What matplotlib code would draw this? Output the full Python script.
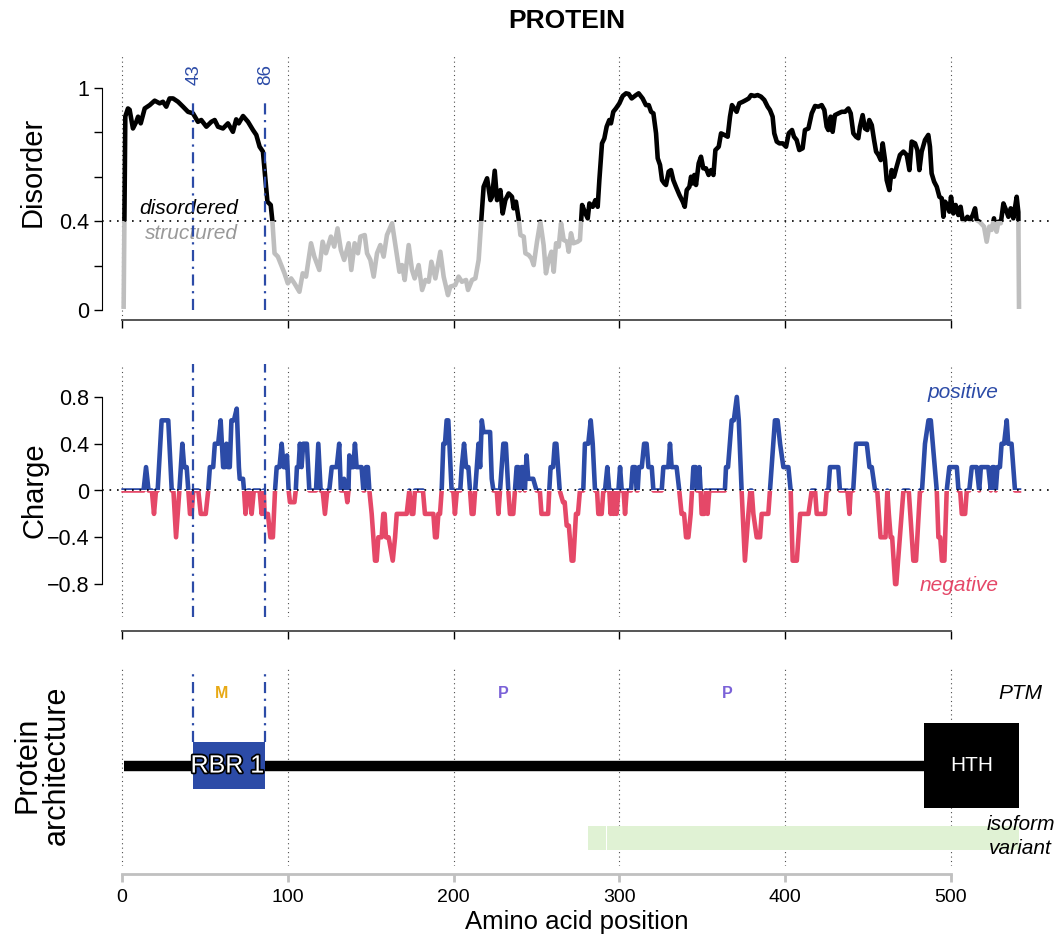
import numpy as np
import matplotlib.pyplot as plt
from matplotlib.patches import Rectangle
import matplotlib.patheffects as pe

plt.rcParams['font.family'] = ['Liberation Sans', 'DejaVu Sans']

# disorder score along the sequence (position, score)
dis_pos = [1, 2, 3.6, 4.6, 6.6, 8.6, 9.7, 11.3, 13.7, 16.7, 19.7, 22.7, 24.7, 26.7, 28.7, 30.8, 33.8, 36.8,
           39.8, 42.8, 45.8, 47.8, 50.9, 53.9, 55.9, 57.9, 60.9, 63.9, 66.9, 68.9, 70.4, 73, 76, 79, 81, 83,
           85, 86.5, 87.7, 89.7, 90.7, 92, 94, 96, 98, 100, 102, 104, 107, 109, 111, 114, 116, 119, 121, 123,
           126, 128, 130, 132, 134, 136.7, 138.3, 140.3, 142.3, 143.8, 146.4, 147.8, 149.8, 151.8, 153.8,
           155.8, 157.8, 159.8, 162.9, 164.9, 167.3, 168.9, 170.5, 172.9, 174.9, 176.5, 178.9, 181, 183, 185,
           186.6, 189, 192, 194, 196.6, 198, 201, 203, 205, 207.5, 208.7, 211.1, 213.1, 215.1, 216.7, 218.1,
           220.2, 222.2, 223.2, 224.8, 226.2, 228.2, 229.6, 231.2, 233.2, 235.2, 236.2, 237.6, 239.3, 240.3,
           242.3, 243.3, 245.3, 246.9, 248.3, 250.3, 252.3, 254.3, 255.7, 257.3, 259, 260.4, 261.8, 263.4,
           264.8, 266.4, 268.4, 269.4, 270.8, 272.2, 274.8, 276.2, 277.5, 279.5, 280.9, 281.9, 283.9, 285.5,
           286.9, 287.9, 289.5, 290.9, 292.3, 293.9, 294.9, 296.3, 297.9, 300, 302, 304, 305.6, 307.4, 310,
           311.6, 314, 316, 317.7, 319.1, 320.5, 322.1, 323.1, 324.5, 325.7, 327.1, 328.1, 329.7, 331.1,
           332.5, 334.1, 336.2, 338.2, 339.4, 340.6, 342.2, 343.2, 344.2, 345.2, 346.2, 347.8, 349.2, 350.6,
           352.2, 353.8, 355.3, 356.7, 357.9, 359.9, 361.3, 363.3, 365.3, 366.7, 367.9, 369.3, 370.7, 372.3,
           374.4, 376.4, 378, 379.4, 381.4, 383.4, 385.4, 387.4, 389.4, 390.8, 392.4, 393.4, 394.9, 396.5,
           398.5, 400.5, 402.1, 404.1, 405.3, 406.9, 408.5, 410.5, 411.9, 414, 416, 418, 420, 422, 423.6,
           425, 426, 427.4, 428.6, 430, 432.1, 434.1, 436.1, 438.1, 439.5, 441.1, 442.7, 444.1, 445.1, 446.7,
           448.1, 449.5, 450.7, 452.2, 453.6, 454.8, 456.2, 457.6, 458.8, 460.2, 461.2, 462.8, 464.2, 465.6,
           467.2, 469.2, 471.3, 473.3, 474.9, 476.3, 478.3, 479.7, 480.9, 482.3, 484.3, 486.3, 487.3, 488.3,
           489.8, 491.4, 493, 494.4, 495.4, 496.4, 497.8, 499, 500, 501.4, 502.8, 504.4, 505.8, 507, 508.4,
           509.9, 511.5, 513.1, 514.5, 515.5, 517.1, 518.5, 519.9, 521.5, 523.1, 524.5, 525.9, 527.5, 528.6,
           530, 531.6, 533.2, 534.6, 536, 537.6, 539.6, 540.6, 541]
dis_val = [0.015, 0.87, 0.906, 0.9, 0.816, 0.846, 0.869, 0.839, 0.906, 0.921, 0.941, 0.929, 0.936, 0.914,
           0.951, 0.951, 0.936, 0.914, 0.891, 0.884, 0.846, 0.854, 0.824, 0.846, 0.854, 0.824, 0.816, 0.839,
           0.801, 0.857, 0.839, 0.872, 0.846, 0.809, 0.787, 0.734, 0.712, 0.584, 0.487, 0.472, 0.4, 0.255,
           0.24, 0.202, 0.165, 0.12, 0.142, 0.12, 0.082, 0.165, 0.15, 0.3, 0.24, 0.18, 0.307, 0.255, 0.33,
           0.285, 0.367, 0.27, 0.225, 0.3, 0.18, 0.3, 0.255, 0.33, 0.337, 0.255, 0.225, 0.15, 0.255, 0.292,
           0.24, 0.337, 0.39, 0.292, 0.172, 0.202, 0.135, 0.292, 0.18, 0.142, 0.202, 0.09, 0.135, 0.127,
           0.217, 0.142, 0.262, 0.15, 0.067, 0.105, 0.112, 0.15, 0.127, 0.135, 0.09, 0.135, 0.142, 0.225,
           0.405, 0.554, 0.592, 0.494, 0.509, 0.626, 0.494, 0.539, 0.434, 0.494, 0.524, 0.509, 0.457, 0.487,
           0.405, 0.337, 0.33, 0.255, 0.247, 0.232, 0.202, 0.307, 0.397, 0.292, 0.165, 0.225, 0.262, 0.172,
           0.3, 0.285, 0.39, 0.315, 0.307, 0.262, 0.345, 0.3, 0.307, 0.315, 0.472, 0.434, 0.412, 0.479, 0.464,
           0.494, 0.464, 0.584, 0.749, 0.771, 0.824, 0.854, 0.839, 0.891, 0.906, 0.929, 0.962, 0.974, 0.971,
           0.951, 0.966, 0.974, 0.951, 0.921, 0.921, 0.891, 0.884, 0.794, 0.682, 0.652, 0.584, 0.569, 0.562,
           0.622, 0.629, 0.584, 0.554, 0.517, 0.487, 0.464, 0.539, 0.554, 0.599, 0.569, 0.607, 0.562, 0.659,
           0.689, 0.637, 0.637, 0.607, 0.629, 0.607, 0.719, 0.734, 0.794, 0.787, 0.779, 0.869, 0.921, 0.906,
           0.891, 0.929, 0.936, 0.944, 0.951, 0.966, 0.962, 0.966, 0.959, 0.944, 0.914, 0.899, 0.869, 0.794,
           0.757, 0.749, 0.749, 0.734, 0.794, 0.809, 0.779, 0.764, 0.719, 0.727, 0.809, 0.816, 0.884, 0.917,
           0.914, 0.921, 0.899, 0.824, 0.809, 0.869, 0.801, 0.876, 0.884, 0.891, 0.891, 0.906, 0.884, 0.794,
           0.779, 0.772, 0.824, 0.876, 0.816, 0.809, 0.854, 0.831, 0.764, 0.712, 0.697, 0.674, 0.749, 0.674,
           0.584, 0.539, 0.629, 0.599, 0.644, 0.697, 0.712, 0.697, 0.629, 0.757, 0.749, 0.719, 0.629, 0.712,
           0.764, 0.787, 0.734, 0.614, 0.577, 0.554, 0.509, 0.502, 0.419, 0.487, 0.472, 0.442, 0.509, 0.434,
           0.472, 0.427, 0.464, 0.404, 0.404, 0.419, 0.404, 0.427, 0.457, 0.404, 0.397, 0.386, 0.375, 0.307,
           0.375, 0.36, 0.412, 0.352, 0.397, 0.39, 0.479, 0.449, 0.419, 0.457, 0.412, 0.509, 0.44, 0.015]

# net charge along the sequence (position, charge)
charge_pos = [1, 13, 14.5, 16, 18, 19.3, 20.5, 21.5, 23.9, 27.9, 30, 31, 32.6, 34.6, 36.4, 37.5, 39, 40, 41, 42,
              43, 46, 47.5, 50.5, 52, 53, 55, 56, 58, 59.5, 61, 62, 63, 64, 65, 66, 67.5, 69.2, 70.5, 71, 73,
              73.6, 74.5, 76, 77, 78.2, 79.5, 83, 84.2, 85.5, 86, 88, 89.5, 91, 92.3, 93.3, 95, 96.3, 97.5,
              98.5, 99.5, 100.5, 101.3, 104, 104.8, 105.5, 106.5, 107.3, 108.3, 109.3, 111.5, 113, 117, 118.4,
              119.8, 121, 122.4, 123.8, 125, 126.5, 129.5, 131, 132, 133.2, 133.9, 135, 135.9, 136.6, 137.1,
              138, 139.5, 140.5, 141.5, 144.5, 145.6, 146.2, 147.2, 148.3, 149.2, 150.6, 152.6, 153.6, 154.6,
              156.6, 157.6, 158.4, 159.2, 160.8, 163.3, 164.7, 165.7, 171.7, 173.3, 174.7, 175.7, 176.7, 178.7,
              181.5, 182.7, 187.8, 188.8, 189.8, 190.8, 191.8, 192.8, 193.8, 194.8, 195.8, 196.8, 198.8, 199.8,
              200.8, 202, 204, 204.9, 206.3, 207.5, 208.9, 209.9, 210.9, 212, 213, 214, 215, 216, 217, 218, 222,
              223, 224, 226, 227, 228, 229, 230, 231.5, 233, 234, 236, 237, 238, 239, 240, 241, 242, 243, 244,
              245, 248, 250, 252, 253, 257, 257.7, 258.5, 260, 261, 262, 264, 266, 267, 268.2, 269.5, 271.2,
              272.2, 273.8, 275, 276.2, 278.2, 279.2, 281.2, 282.7, 283.9, 285.3, 286.5, 287.3, 289.3, 290.3,
              291.3, 292.7, 293.9, 294.7, 295.5, 296.5, 297.3, 298.3, 299.4, 300.4, 301.4, 302.5, 303.4, 304.4,
              307, 308, 309.5, 310.4, 311, 311.8, 313.5, 314.9, 316.4, 317.5, 319.5, 320.5, 325.5, 326.5, 329.5,
              330.5, 331.5, 334.5, 336.1, 337.5, 339, 340.2, 341.6, 343, 343.8, 344.6, 346, 346.8, 347.5, 348.2,
              349, 349.6, 351.2, 352.1, 352.6, 353.2, 354.2, 363.6, 364.3, 365.5, 367.7, 369, 370.8, 372, 373.7,
              375.7, 377.8, 379, 379.8, 380.8, 382.8, 384.8, 385.8, 389.8, 390.8, 392.8, 393.8, 395.4, 396.9,
              398.9, 401.9, 403.3, 404.5, 407, 409, 414, 416, 418, 419, 424, 425, 426, 427, 432, 433, 437.5,
              438.7, 439.5, 441, 442.7, 449.2, 450.8, 452.2, 454.2, 455.5, 456.5, 457.5, 460.5, 461.6, 462.5,
              463.6, 464.5, 466.3, 467, 471.3, 474.5, 477.3, 478.9, 481.3, 482.5, 484.3, 486.4, 487.8, 489,
              491.4, 492.4, 493.5, 494.5, 496, 497.4, 499, 503.5, 504.5, 505.5, 506.5, 508.5, 509.5, 511, 512.5,
              515.5, 517, 518, 522.5, 524, 525, 526, 527, 528, 529.5, 530.5, 532, 533.6, 534.5, 536.5, 538.6, 541]
charge_val = [0, 0, 0.2, 0, 0, -0.2, 0, 0, 0.6, 0.6, 0, 0, -0.4, 0, 0.4, 0.2, 0.2, 0, -0.2, -0.2,
              0, 0, -0.2, -0.2, 0, 0.2, 0.2, 0.4, 0.4, 0.6, 0.2, 0.2, 0.4, 0.2, 0.2, 0.6, 0.6, 0.7, 0.2, 0.1, 0.1,
              0, -0.2, 0, 0, -0.2, 0, 0, -0.2, 0, -0.2, -0.2, -0.4, -0.4, 0, 0.2, 0.2, 0.4, 0.2,
              0.2, 0.3, 0, -0.1, -0.1, 0, 0.2, 0.2, 0.4, 0.2, 0.4, 0.4, 0, 0, 0.4,
              0, 0, -0.2, 0, 0, 0.2, 0.2, 0.4, 0, 0, 0.1, 0, -0.1, 0, 0.3,
              0.2, 0.2, 0.4, 0.2, 0.2, 0, 0, 0.2, 0.2, 0, -0.2, -0.6, -0.6, -0.4,
              -0.4, -0.2, -0.2, -0.4, -0.4, -0.6, -0.4, -0.2, -0.2, 0, -0.2, -0.2, 0, 0,
              0, -0.2, -0.2, -0.4, -0.4, -0.2, -0.2, 0, 0.4, 0.4, 0.6, 0.6, 0, 0,
              -0.2, 0, 0, 0.2, 0.4, 0.2, 0.2, 0, -0.2, -0.2, 0, 0.2, 0.4, 0.2, 0.6, 0.5, 0.5,
              0.1, 0, 0, -0.2, 0, 0.2, 0.4, 0.4, 0, -0.2, -0.2, 0, 0.2, 0.2, 0, 0.2, 0.2, 0, 0.3,
              0.1, 0.1, 0, 0, -0.2, -0.2, 0, 0.2, 0.2, 0.4, 0.4, 0, -0.1, -0.1, -0.3, -0.3, -0.6,
              -0.6, -0.2, -0.2, 0, 0, 0.4, 0.4, 0.6, 0.4, 0, 0, -0.2, -0.2, 0,
              0, 0.2, 0, -0.2, 0, -0.2, 0, -0.2, 0, 0.2, 0, 0, -0.2, 0,
              0, 0.2, 0.2, 0, 0, 0.2, 0.2, 0.4, 0.4, 0.2, 0.2, 0, 0, 0.2, 0.2,
              0.4, 0.2, 0.2, 0, -0.2, -0.2, -0.4, -0.4, -0.2, 0, 0.2, 0.2, 0, 0, 0.2,
              0, -0.2, -0.2, 0, 0, -0.2, 0, 0, 0.2, 0.2, 0.6, 0.6, 0.8, 0.6, 0,
              -0.6, -0.2, 0, 0, -0.2, -0.4, -0.4, -0.2, -0.2, 0, 0.4, 0.6, 0.6, 0.4,
              0.2, 0.2, 0, -0.6, -0.6, -0.2, -0.2, 0, 0, -0.2, -0.2, 0, 0, 0.2, 0.2, 0, 0,
              -0.2, 0, 0, 0.4, 0.4, 0.2, 0.2, 0, 0, -0.2, -0.4, -0.4, 0, -0.2,
              -0.4, -0.4, -0.8, -0.8, 0, 0, -0.6, -0.6, 0, 0, 0.4, 0.6, 0.6, 0.4,
              0, -0.4, -0.4, -0.6, -0.6, 0, 0.2, 0.2, 0, 0, -0.2, -0.2, 0, 0, 0.2,
              0.2, 0, 0.2, 0.2, 0, 0.2, 0.2, 0, 0.2, 0.2, 0.4, 0.4, 0.6, 0.4, 0.4, 0, 0]

protein_length = 541
marks = [43, 86]
domain_names = ['RBR 1', 'HTH']
domain_start = [43, 484]
domain_end = [86, 541]
ptm_pos = [60, 230, 365]
ptm_labels = ['M', 'P', 'P']
isoform_start = [281, 292.7]
isoform_end = [292.2, 541]

blue = '#2C4BA7'
red = '#E54868'
grey_line = '#BEBEBE'

W, H = 1056, 938
fig = plt.figure(figsize=(W / 100, H / 100), dpi=100)


def panel(top, bottom):
    ax = fig.add_axes([102.1 / W, 1 - bottom / H, 948.4 / W, (bottom - top) / H])
    ax.set_xlim(-12, 560)
    ax.spines['top'].set_visible(False)
    ax.spines['right'].set_visible(False)
    for g in range(0, 501, 100):
        ax.axvline(g, color='0.3', ls=(0, (1, 3)), lw=0.8, zorder=0)
    ax.set_xticks(range(0, 501, 100))
    ax.spines['bottom'].set_bounds(0, 500)
    ax.tick_params(axis='both', labelsize=14, length=6, width=1, direction='out')
    ax.tick_params(axis='y', labelsize=15.5, pad=3)
    return ax


def two_tone(ax, x, y, level, hi_color, lo_color, lw):
    for col, y0 in [(hi_color, level), (lo_color, level - 10)]:
        line, = ax.plot(x, y, color=col, lw=lw, solid_joinstyle='round', zorder=3)
        line.set_clip_path(Rectangle((-50, y0), 700, 10, transform=ax.transData))


# ---- disorder ----
ax1 = panel(55.5, 319.8)
ax1.set_ylim(-0.044, 1.144)
two_tone(ax1, dis_pos, dis_val, 0.4, 'black', grey_line, 3.3)
ax1.axhline(0.4, color='black', ls=(0, (1, 3.5)), lw=1.2, zorder=5)
for m in marks:
    ax1.plot([m, m], [0, 0.93], color=blue, lw=1.6, ls=(0, (5, 2.5, 1, 2.5)), zorder=4)
    ax1.text(m + 0.5, 1.01, str(m), rotation=90, ha='center', va='bottom', color=blue, fontsize=13.5)
ax1.text(70, 0.458, 'disordered', ha='right', va='center', style='italic', fontsize=15, color='black')
ax1.text(70, 0.346, 'structured', ha='right', va='center', style='italic', fontsize=15, color='#999999')
ax1.set_yticks([0, 0.2, 0.4, 0.6, 0.8, 1.0])
ax1.set_yticklabels(['0', '', '0.4', '', '', '1'])
ax1.spines['left'].set_bounds(0, 1)
ax1.spines['bottom'].set_color('#555555')
ax1.spines['bottom'].set_linewidth(1.4)
ax1.set_xticklabels([])
ax1.set_title('PROTEIN', fontsize=19, fontweight='bold', pad=20, x=0.49)

# ---- charge ----
ax2 = panel(364.2, 616.8)
ax2.set_ylim(-1.08, 1.08)
two_tone(ax2, charge_pos, charge_val, 0, blue, red, 3.3)
ax2.axhline(0, color='black', ls=(0, (1, 3.5)), lw=1.2, zorder=5)
for m in marks:
    ax2.axvline(m, color=blue, lw=1.6, ls=(0, (5, 2.5, 1, 2.5)), zorder=4)
ax2.text(507, 0.834, 'positive', ha='center', va='center', style='italic', fontsize=15, color=blue)
ax2.text(505, -0.81, 'negative', ha='center', va='center', style='italic', fontsize=15, color=red)
ax2.set_yticks([-0.8, -0.4, 0, 0.4, 0.8])
ax2.set_yticklabels(['\u22120.8', '\u22120.4', '0', '0.4', '0.8'])
ax2.spines['left'].set_bounds(-0.8, 0.8)
ax2.spines['bottom'].set_position(('outward', 10))
ax2.spines['bottom'].set_color('#555555')
ax2.spines['bottom'].set_linewidth(1.4)
ax2.set_xticklabels([])

# ---- architecture ----
ax3 = panel(665.5, 865.6)
ax3.set_ylim(-1.38, 1.38)
ax3.spines['left'].set_visible(False)
ax3.set_yticks([])
ax3.plot([1, protein_length], [0, 0], color='black', lw=7.5, solid_capstyle='butt', zorder=2)
ax3.add_patch(Rectangle((domain_start[0], -0.33), domain_end[0] - domain_start[0], 0.66,
                        facecolor=blue, edgecolor='none', zorder=3))
ax3.add_patch(Rectangle((domain_start[1], -0.59), domain_end[1] - domain_start[1], 1.18,
                        facecolor='black', edgecolor='none', zorder=3))
ax3.text((domain_start[0] + domain_end[0]) / 2 - 1, 0, domain_names[0], ha='center', va='center',
         color='white', fontsize=18, zorder=4,
         path_effects=[pe.withStroke(linewidth=2.5, foreground='black')])
ax3.text((domain_start[1] + domain_end[1]) / 2, 0, domain_names[1], ha='center', va='center',
         color='white', fontsize=15, zorder=4)
for m in marks:
    ax3.plot([m, m], [0.33, 1.33], color=blue, lw=1.6, ls=(0, (5, 2.5, 1, 2.5)), zorder=4)
for p, lab in zip(ptm_pos, ptm_labels):
    ax3.text(p, 1.0, lab, ha='center', va='center', fontsize=11.5, fontweight='bold',
             color='#E8A914' if lab == 'M' else '#7B62D8')
for s, e in zip(isoform_start, isoform_end):
    ax3.add_patch(Rectangle((s, -1.17), e - s, 0.34, facecolor='#E0F2D4', edgecolor='none', zorder=1))
ax3.text(542, 1.0, 'PTM', ha='center', va='center', style='italic', fontsize=15)
ax3.text(542, -0.815, 'isoform', ha='center', va='center', style='italic', fontsize=15)
ax3.text(542, -1.146, 'variant', ha='center', va='center', style='italic', fontsize=15)
ax3.spines['bottom'].set_position(('outward', 6))
ax3.spines['bottom'].set_color('#C0C0C0')
ax3.spines['bottom'].set_linewidth(2)
ax3.tick_params(axis='x', color='#C0C0C0', width=2, length=6, labelcolor='black', pad=5)
ax3.set_xlabel('Amino acid position', fontsize=18.5, labelpad=3)

fig.text(33 / W, 1 - 172 / H, 'Disorder', rotation=90, ha='center', va='center', fontsize=21)
fig.text(34 / W, 1 - 490 / H, 'Charge', rotation=90, ha='center', va='center', fontsize=21)
fig.text(42 / W, 1 - 765 / H, 'Protein\narchitecture', rotation=90, ha='center', va='center',
         fontsize=22, linespacing=0.95)

fig.savefig('out.png', dpi=100)
